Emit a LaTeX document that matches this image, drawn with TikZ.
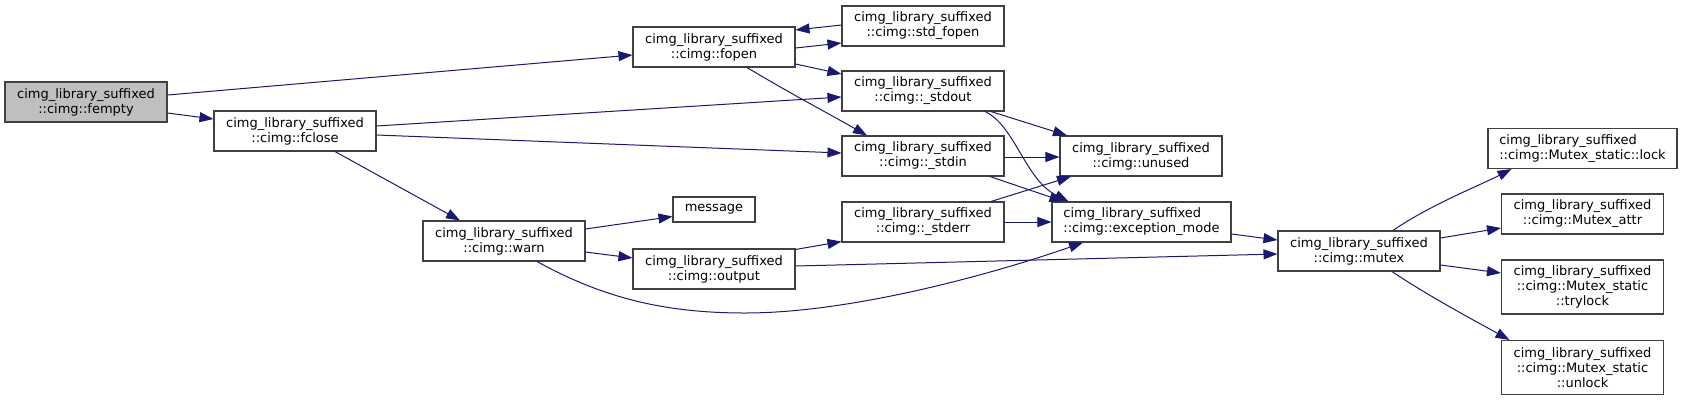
\documentclass[tikz,border=0pt]{standalone}
\usepackage{fontspec}
\setmainfont{DejaVu Sans}
\usetikzlibrary{arrows.meta, calc}
\definecolor{edgeblue}{HTML}{191970}
\definecolor{boxgray}{HTML}{404040}
\definecolor{rootfill}{HTML}{BFBFBF}
\tikzset{%
   % one function box of the call graph
   fn/.style={
      rectangle,
      draw=boxgray,
      fill=white,
      line width=.8pt,
      inner sep=0pt,
      minimum width=121.5pt,
      minimum height=30pt,
      align=center,
      font=\fontsize{9.75pt}{11.25pt}\selectfont
   },
   fnroot/.style={fn, fill=rootfill},
   fnleft/.style={fn, align=left},
   fntall/.style={fn, minimum height=40.5pt},
   call/.style={
      draw=edgeblue,
      line width=.75pt,
      -{Triangle[length=10.5pt, width=7.5pt]}
   },
}

\begin{document}
\begin{tikzpicture}[x=.75pt, y=-.75pt]
\useasboundingbox (0,0) rectangle (1683,401);
% functions
\node[fnroot] (fempty) at (86,102) {cimg\_library\_suffixed\\::cimg::fempty};
\node[fn] (fclose) at (295,131) {cimg\_library\_suffixed\\::cimg::fclose};
\node[fn] (fopen) at (714,47) {cimg\_library\_suffixed\\::cimg::fopen};
\node[fn] (warn) at (504,241) {cimg\_library\_suffixed\\::cimg::warn};
\node[fn, minimum width=61.5pt, minimum height=18.75pt] (message) at (714,209.5) {message};
\node[fn] (output) at (714,269) {cimg\_library\_suffixed\\::cimg::output};
\node[fn] (stdfopen) at (923,26) {cimg\_library\_suffixed\\::cimg::std\_fopen};
\node[fn] (stdout) at (923,91) {cimg\_library\_suffixed\\::cimg::\_stdout};
\node[fn] (stdin) at (923,156) {cimg\_library\_suffixed\\::cimg::\_stdin};
\node[fn] (stderr) at (923,222) {cimg\_library\_suffixed\\::cimg::\_stderr};
\node[fn] (unused) at (1141,156) {cimg\_library\_suffixed\\::cimg::unused};
\node[fnleft, minimum width=134.25pt] (exception) at (1141.5,222) {cimg\_library\_suffixed\\::cimg::exception\_mode};
\node[fn] (mutex) at (1359,251) {cimg\_library\_suffixed\\::cimg::mutex};
\node[fnleft, minimum width=141.75pt] (lock) at (1582.5,148.5) {cimg\_library\_suffixed\\::cimg::Mutex\_static::lock};
\node[fn] (attr) at (1582.5,214) {cimg\_library\_suffixed\\::cimg::Mutex\_attr};
\node[fntall] (trylock) at (1582.5,287) {cimg\_library\_suffixed\\::cimg::Mutex\_static\\::trylock};
\node[fntall] (unlock) at (1582.5,367.5) {cimg\_library\_suffixed\\::cimg::Mutex\_static\\::unlock};
% calls
\draw[call] ($(fempty.east)+(0,-7)$) -- ($(fopen.west)+(0,8)$);
\draw[call] ($(fempty.east)+(0,11)$) -- ($(fclose.west)+(0,-12)$);
\draw[call] ($(fopen.east)+(0,1)$) -- ($(stdfopen.west)+(0,17)$);
\draw[call] ($(stdfopen.west)+(0,-1)$) -- ($(fopen.east)+(0,-17)$);
\draw[call] ($(fopen.east)+(0,17)$) -- ($(stdout.west)+(0,-17)$);
\draw[call] ($(fopen.south)+(33,0)$) .. controls ($(fopen.south)+(80,28)$) and ($(stdin.north)+(-100,-25)$) .. ($(stdin.north)+(-56,0)$);
\draw[call] ($(fclose.east)+(0,-5)$) -- ($(stdout.west)+(0,6)$);
\draw[call] ($(fclose.east)+(0,4)$) -- ($(stdin.west)+(0,-3)$);
\draw[call] ($(fclose.south)+(40,0)$) -- ($(warn.north)+(-44,0)$);
\draw[call] ($(stdout.south)+(68,0)$) -- ($(unused.north)+(-74,0)$);
\draw[call] ($(stdout.south)+(62,0)$) .. controls ($(stdout.south)+(92,14)$) and ($(exception.north)+(-116.5,-22)$) .. ($(exception.north)+(-73,0)$);
\draw[call] ($(stdin.east)+(0,1)$) -- ($(unused.west)+(0,1)$);
\draw[call] ($(stdin.south)+(67,0)$) -- ($(exception.north)+(-78,0)$);
\draw[call] ($(stderr.north)+(68,0)$) -- ($(unused.south)+(-70,0)$);
\draw[call] (stderr.east) -- (exception.west);
\draw[call] ($(exception.east)+(0,12)$) -- ($(mutex.west)+(0,-11)$);
\draw[call] ($(output.east)+(0,-3)$) -- ($(mutex.west)+(0,3)$);
\draw[call] ($(output.north east)+(0,1)$) -- ($(stderr.south west)+(0,-1)$);
\draw[call] ($(warn.east)+(0,-12)$) -- ($(message.west)+(0,7)$);
\draw[call] ($(warn.east)+(0,11)$) -- ($(output.west)+(0,-11)$);
\draw[call] ($(warn.south)+(33,0)$) .. controls (600,296) and (660,313) .. (745,313)
   .. controls (850,313) and (990,275) .. ($(exception.south)+(-58.5,0)$);
\draw[call] ($(mutex.north)+(34,0)$) .. controls ($(mutex.north)+(70,-25)$) and ($(lock.south)+(-100,15)$) .. ($(lock.south)+(-71,0)$);
\draw[call] ($(mutex.east)+(0,-13)$) -- ($(attr.west)+(0,14)$);
\draw[call] ($(mutex.east)+(0,14)$) -- ($(trylock.west)+(0,-14)$);
\draw[call] ($(mutex.south)+(33,0)$) .. controls ($(mutex.south)+(70,25)$) and ($(unlock.north)+(-100,-15)$) .. ($(unlock.north)+(-73,0)$);
\end{tikzpicture}
\end{document}
